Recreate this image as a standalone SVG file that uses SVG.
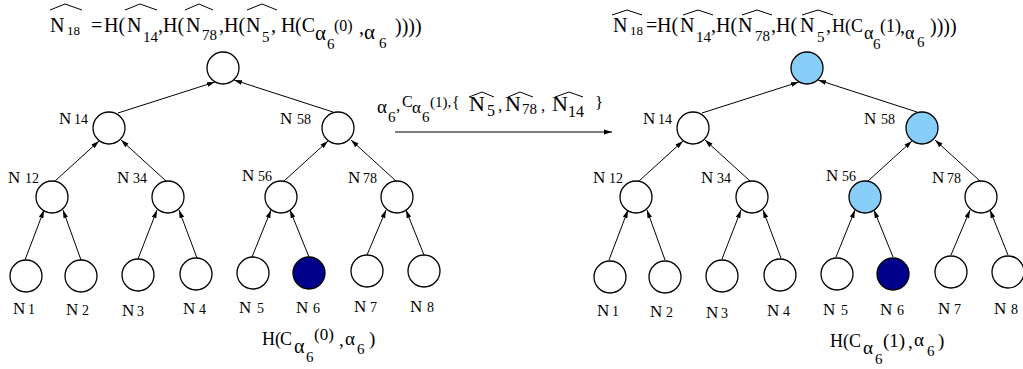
<svg xmlns="http://www.w3.org/2000/svg" width="1023" height="369" viewBox="0 0 1023 369">
<defs>
<style>
text{font-family:"Liberation Serif","Times New Roman",serif;fill:#000}
.nd{fill:#fff;stroke:#000;stroke-width:1.3}
.hl{fill:#87CEFA;stroke:#000;stroke-width:1.3}
.dk{fill:#00008B;stroke:#000;stroke-width:1.3}
.e{stroke:#000;stroke-width:1;fill:none;marker-end:url(#ah)}
.hat{stroke:#000;stroke-width:1;fill:none}
.m{font-size:20px}
.lb{font-size:17px}
.ld{font-size:14px}
</style>
<marker id="ah" viewBox="0 0 8 6" refX="8" refY="3" markerWidth="8" markerHeight="6" orient="auto" markerUnits="userSpaceOnUse"><path d="M0,0.6 L8,3 L0,5.4 z" fill="#000"/></marker>
</defs>
<rect width="1023" height="369" fill="#fff"/>

<g id="connectors">
<g id="left-edges">
<line class="e" x1="25" y1="260" x2="44" y2="210"/>
<line class="e" x1="81" y1="260" x2="63" y2="210"/>
<line class="e" x1="138" y1="259" x2="157" y2="210"/>
<line class="e" x1="197" y1="258" x2="179" y2="210"/>
<line class="e" x1="252" y1="257" x2="271" y2="210"/>
<line class="e" x1="309" y1="257" x2="290" y2="210"/>
<line class="e" x1="367" y1="255" x2="386" y2="210"/>
<line class="e" x1="424" y1="255" x2="406" y2="210"/>
<line class="e" x1="55" y1="181" x2="99" y2="141"/>
<line class="e" x1="166" y1="181" x2="121" y2="140"/>
<line class="e" x1="284" y1="181" x2="328" y2="141"/>
<line class="e" x1="396" y1="181" x2="351" y2="140"/>
<line class="e" x1="118" y1="113" x2="215" y2="82"/>
<line class="e" x1="333" y1="112" x2="234" y2="80"/>
</g>
<g id="right-edges" transform="translate(584,0)">
<line class="e" x1="25" y1="260" x2="44" y2="210"/>
<line class="e" x1="81" y1="260" x2="63" y2="210"/>
<line class="e" x1="138" y1="259" x2="157" y2="210"/>
<line class="e" x1="197" y1="258" x2="179" y2="210"/>
<line class="e" x1="252" y1="257" x2="271" y2="210"/>
<line class="e" x1="309" y1="257" x2="290" y2="210"/>
<line class="e" x1="367" y1="255" x2="386" y2="210"/>
<line class="e" x1="424" y1="255" x2="406" y2="210"/>
<line class="e" x1="55" y1="181" x2="99" y2="141"/>
<line class="e" x1="166" y1="181" x2="121" y2="140"/>
<line class="e" x1="284" y1="181" x2="328" y2="141"/>
<line class="e" x1="396" y1="181" x2="351" y2="140"/>
<line class="e" x1="118" y1="113" x2="215" y2="82"/>
<line class="e" x1="333" y1="112" x2="234" y2="80"/>
</g>
<line id="transition" class="e" x1="395" y1="132" x2="612" y2="132"/>
</g>

<!-- Left tree -->
<g id="L-N18"><circle class="nd" cx="223" cy="68" r="16"/></g>
<g id="L-N14"><circle class="nd" cx="109" cy="128" r="16"/><text class="lb" x="59" y="124">N<tspan class="ld" x="74">14</tspan></text></g>
<g id="L-N58"><circle class="nd" cx="338" cy="128" r="16"/><text class="lb" x="280" y="124">N<tspan class="ld" x="297">58</tspan></text></g>
<g id="L-N12"><circle class="nd" cx="52" cy="197" r="16"/><text class="lb" x="8" y="183">N<tspan class="ld" x="25">12</tspan></text></g>
<g id="L-N34"><circle class="nd" cx="168" cy="197" r="16"/><text class="lb" x="117" y="183">N<tspan class="ld" x="133">34</tspan></text></g>
<g id="L-N56"><circle class="nd" cx="281" cy="197" r="16"/><text class="lb" x="242" y="181">N<tspan class="ld" x="258">56</tspan></text></g>
<g id="L-N78"><circle class="nd" cx="397" cy="197" r="16"/><text class="lb" x="348" y="183">N<tspan class="ld" x="363">78</tspan></text></g>
<g id="L-N1"><circle class="nd" cx="26" cy="276" r="16"/><text class="lb" x="13" y="314">N<tspan class="ld" x="28">1</tspan></text></g>
<g id="L-N2"><circle class="nd" cx="81" cy="276" r="16"/><text class="lb" x="66" y="315">N<tspan class="ld" x="82">2</tspan></text></g>
<g id="L-N3"><circle class="nd" cx="138" cy="275" r="16"/><text class="lb" x="122" y="316">N<tspan class="ld" x="137">3</tspan></text></g>
<g id="L-N4"><circle class="nd" cx="196" cy="274" r="16"/><text class="lb" x="183" y="314">N<tspan class="ld" x="199">4</tspan></text></g>
<g id="L-N5"><circle class="nd" cx="253" cy="273" r="16"/><text class="lb" x="239" y="313">N<tspan class="ld" x="257">5</tspan></text></g>
<g id="L-N6"><circle class="dk" cx="309" cy="273" r="16"/><text class="lb" x="296" y="313">N<tspan class="ld" x="313">6</tspan></text></g>
<g id="L-N7"><circle class="nd" cx="367" cy="271" r="16"/><text class="lb" x="354" y="312">N<tspan class="ld" x="370">7</tspan></text></g>
<g id="L-N8"><circle class="nd" cx="424" cy="271" r="16"/><text class="lb" x="410" y="312">N<tspan class="ld" x="427">8</tspan></text></g>

<!-- Right tree -->
<g id="R-N18"><circle class="hl" cx="807" cy="68" r="16"/></g>
<g id="R-N14"><circle class="nd" cx="693" cy="128" r="16"/><text class="lb" x="643" y="124">N<tspan class="ld" x="658">14</tspan></text></g>
<g id="R-N58"><circle class="hl" cx="922" cy="128" r="16"/><text class="lb" x="864" y="124">N<tspan class="ld" x="881">58</tspan></text></g>
<g id="R-N12"><circle class="nd" cx="636" cy="197" r="16"/><text class="lb" x="593" y="183">N<tspan class="ld" x="609">12</tspan></text></g>
<g id="R-N34"><circle class="nd" cx="752" cy="197" r="16"/><text class="lb" x="701" y="183">N<tspan class="ld" x="717">34</tspan></text></g>
<g id="R-N56"><circle class="hl" cx="865" cy="197" r="16"/><text class="lb" x="826" y="181">N<tspan class="ld" x="842">56</tspan></text></g>
<g id="R-N78"><circle class="nd" cx="981" cy="197" r="16"/><text class="lb" x="932" y="183">N<tspan class="ld" x="947">78</tspan></text></g>
<g id="R-N1"><circle class="nd" cx="610" cy="277" r="16"/><text class="lb" x="597" y="316">N<tspan class="ld" x="612">1</tspan></text></g>
<g id="R-N2"><circle class="nd" cx="665" cy="277" r="16"/><text class="lb" x="650" y="317">N<tspan class="ld" x="666">2</tspan></text></g>
<g id="R-N3"><circle class="nd" cx="722" cy="276" r="16"/><text class="lb" x="706" y="318">N<tspan class="ld" x="721">3</tspan></text></g>
<g id="R-N4"><circle class="nd" cx="780" cy="275" r="16"/><text class="lb" x="767" y="316">N<tspan class="ld" x="783">4</tspan></text></g>
<g id="R-N5"><circle class="nd" cx="837" cy="274" r="16"/><text class="lb" x="823" y="315">N<tspan class="ld" x="841">5</tspan></text></g>
<g id="R-N6"><circle class="dk" cx="893" cy="274" r="16"/><text class="lb" x="880" y="315">N<tspan class="ld" x="897">6</tspan></text></g>
<g id="R-N7"><circle class="nd" cx="951" cy="272" r="16"/><text class="lb" x="938" y="314">N<tspan class="ld" x="954">7</tspan></text></g>
<g id="R-N8"><circle class="nd" cx="1008" cy="272" r="16"/><text class="lb" x="994" y="314">N<tspan class="ld" x="1011">8</tspan></text></g>

<!-- Left top formula -->
<g id="formula-left">
<polyline class="hat" points="50,10 65,4 82,10"/>
<polyline class="hat" points="125,10 140,4 157,10"/>
<polyline class="hat" points="185,10 199,4 213,10"/>
<polyline class="hat" points="247,10 262,4 277,10"/>
<text class="m" x="50" y="32">N</text>
<text font-size="13" x="67" y="35">18</text>
<text class="m" x="91" y="32">=</text>
<text class="m" x="104" y="32">H(</text>
<text class="m" x="127" y="32">N</text>
<text font-size="15" x="143" y="42">14</text>
<text class="m" x="158" y="32">,H(</text>
<text class="m" x="186" y="32">N</text>
<text font-size="15" x="202" y="40">78</text>
<text class="m" x="219" y="32">,H(</text>
<text class="m" x="246" y="32">N</text>
<text font-size="15" x="262" y="42">5</text>
<text class="m" x="271" y="32">,</text>
<text class="m" x="281" y="32">H</text>
<text class="m" x="295" y="32">(C</text>
<text font-size="21" x="315" y="40">α</text>
<text font-size="15" x="327" y="49">6</text>
<text font-size="16" x="334" y="31">(0)</text>
<text class="m" x="359" y="34">,</text>
<text font-size="21" x="364" y="39">α</text>
<text font-size="15" x="379" y="48">6</text>
<text class="m" x="395" y="33">))))</text>
</g>

<!-- Right top formula -->
<g id="formula-right">
<polyline class="hat" points="612,15 627,10 642,15"/>
<polyline class="hat" points="683,15 698,10 713,15"/>
<polyline class="hat" points="742,15 757,10 772,15"/>
<polyline class="hat" points="802,15 818,10 833,15"/>
<text class="m" x="613" y="32">N</text>
<text font-size="13" x="630" y="35">18</text>
<text class="m" x="646" y="32">=</text>
<text class="m" x="657" y="32">H(</text>
<text class="m" x="680" y="32">N</text>
<text font-size="15" x="696" y="42">14</text>
<text class="m" x="711" y="32">,H(</text>
<text class="m" x="738" y="32">N</text>
<text font-size="15" x="755" y="41">78</text>
<text class="m" x="771" y="32">,H(</text>
<text class="m" x="800" y="32">N</text>
<text font-size="15" x="817" y="42">5</text>
<text class="m" x="826" y="32">,</text>
<text font-size="18" x="832" y="32">H(C</text>
<text font-size="18" x="864" y="39">α</text>
<text font-size="15" x="873" y="49">6</text>
<text font-size="18" x="880" y="32">(1)</text>
<text class="m" x="900" y="33">,</text>
<text font-size="18" x="905" y="39">α</text>
<text font-size="15" x="917" y="47">6</text>
<text class="m" x="930" y="33">))))</text>
</g>

<!-- Transition label -->
<g id="transition-label">
<polyline class="hat" points="469,97 482,92 494,97"/>
<polyline class="hat" points="508,97 520,92 533,97"/>
<polyline class="hat" points="555,97 569,92 583,97"/>
<text font-size="19" x="377" y="113">α</text>
<text font-size="15" x="388" y="122">6</text>
<text font-size="17" x="396" y="111">,</text>
<text font-size="16" x="402" y="107">C</text>
<text font-size="17" x="412" y="113">α</text>
<text font-size="15" x="422" y="122">6</text>
<text font-size="15" x="430" y="107">(1),</text>
<text font-size="16" x="452" y="108">{</text>
<text font-size="22" x="469" y="111">N</text>
<text font-size="16" x="487" y="116">5</text>
<text font-size="17" x="498" y="111">,</text>
<text font-size="22" x="505" y="111">N</text>
<text font-size="15" x="522" y="114">78</text>
<text font-size="17" x="541" y="111">,</text>
<text font-size="22" x="552" y="111">N</text>
<text font-size="16" x="568" y="117">14</text>
<text font-size="17" x="595" y="108">}</text>
</g>

<!-- Bottom labels -->
<g id="label-left">
<text font-size="18" x="262" y="345">H(</text>
<text font-size="18" x="280" y="345">C</text>
<text font-size="20" x="294" y="353">α</text>
<text font-size="15" x="306" y="362">6</text>
<text font-size="17" x="314" y="340">(0)</text>
<text font-size="19" x="339" y="346">,</text>
<text font-size="19" x="345" y="345">α</text>
<text font-size="15" x="357" y="354">6</text>
<text font-size="19" x="369" y="345">)</text>
</g>
<g id="label-right">
<text font-size="18" x="830" y="347">H(</text>
<text font-size="18" x="849" y="347">C</text>
<text font-size="19" x="863" y="354">α</text>
<text font-size="15" x="875" y="364">6</text>
<text font-size="19" x="883" y="347">(1)</text>
<text font-size="19" x="908" y="348">,</text>
<text font-size="19" x="914" y="346">α</text>
<text font-size="15" x="927" y="356">6</text>
<text font-size="19" x="938" y="347">)</text>
</g>
</svg>
